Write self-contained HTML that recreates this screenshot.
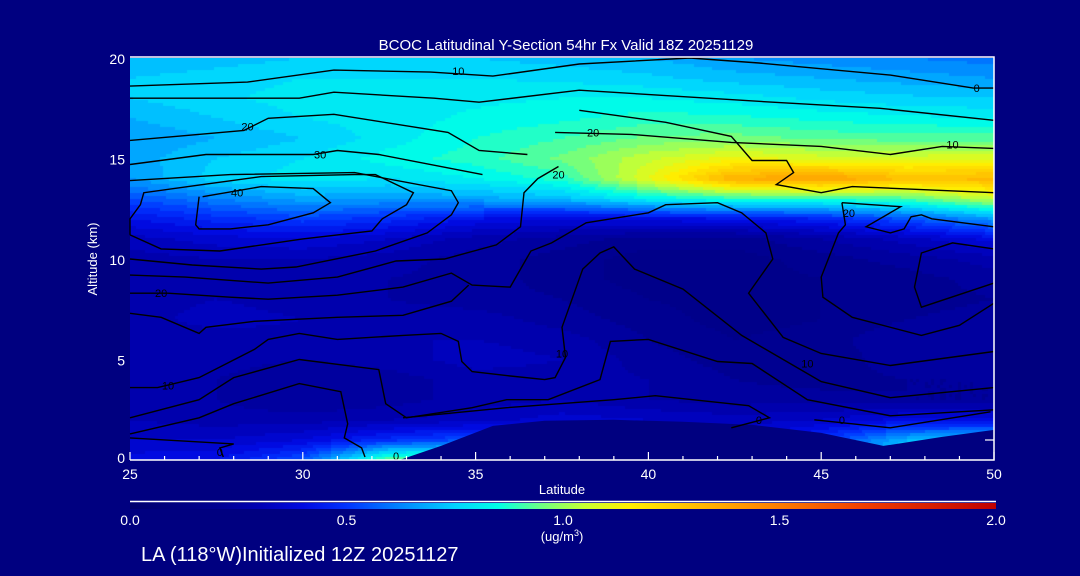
<!DOCTYPE html>
<html><head><meta charset="utf-8">
<style>
html,body{margin:0;padding:0;background:#000080;}
#wrap{position:relative;width:1080px;height:576px;background:#000080;overflow:hidden;font-family:"Liberation Sans",sans-serif;color:#fff;}
canvas{position:absolute;left:130px;top:58px;}
svg{position:absolute;left:0;top:0;}
</style></head>
<body>
<div id="wrap">
<canvas id="heat" width="864" height="402"></canvas>
<svg id="svg" width="1080" height="576"></svg>
</div>
<script>
// ---- data ----
const lats = [25,27.5,30,32.5,35,37.5,40,42.5,45,47.5,50];
const alts = [0,1,2,3,4,5,6,7,8,9,10,11,12,13,14,15,16,17,18,19,20];
const conc = [
[.40,.42,.55,.95,.95,.30,.30,.30,.50,.85,.85],
[.34,.34,.38,.48,.55,.42,.34,.34,.50,.70,.75],
[.30,.28,.28,.30,.32,.36,.34,.32,.34,.40,.40],
[.28,.26,.22,.24,.28,.30,.26,.24,.24,.22,.22],
[.28,.26,.22,.24,.28,.28,.26,.22,.20,.22,.22],
[.30,.28,.26,.28,.32,.30,.24,.20,.18,.26,.24],
[.26,.28,.28,.30,.30,.28,.22,.18,.20,.26,.26],
[.28,.32,.30,.28,.28,.24,.20,.16,.18,.22,.24],
[.28,.30,.28,.26,.24,.22,.18,.16,.18,.20,.22],
[.28,.28,.28,.26,.24,.20,.16,.16,.18,.20,.24],
[.28,.30,.30,.28,.24,.20,.16,.16,.20,.24,.28],
[.32,.36,.38,.34,.28,.24,.20,.20,.26,.32,.40],
[.42,.48,.52,.48,.42,.38,.40,.42,.46,.55,.66],
[.54,.62,.68,.66,.68,.72,.82,.88,.88,.92,1.05],
[.66,.76,.80,.78,.82,.88,1.10,1.35,1.40,1.30,1.32],
[.68,.74,.78,.84,.88,.95,1.05,1.12,1.08,1.08,1.10],
[.66,.70,.74,.80,.86,.90,.95,.96,.93,.92,.92],
[.70,.74,.78,.80,.83,.85,.88,.87,.85,.83,.82],
[.74,.77,.80,.80,.81,.82,.82,.80,.77,.75,.74],
[.74,.76,.78,.78,.78,.77,.75,.72,.70,.68,.66],
[.70,.72,.74,.74,.74,.72,.70,.66,.64,.62,.60]];
const terrain = [[32.8,0],[34,0.7],[35.5,1.7],[37,1.95],[39,2.0],[41,1.9],[43,1.75],[45,1.35],[46.8,0.7],[48.5,1.15],[50,1.5],[50,0]];
const contours = [
[[25,18.6],[28.4,18.8],[30.9,19.4],[33.7,19.3],[35.5,19.1],[38,19.7],[41.2,20],[43.2,19.75],[47,19.15],[49.4,18.5],[50,18.5]],
[[25,18],[29.9,18],[30.9,18.3],[33.8,18],[35.1,17.8],[38,18.4],[43.6,17.8],[46.7,17.5],[50,16.9]],
[[25,15.9],[28.3,16.4],[29,17],[30.9,17.2],[34.2,16.3],[35.1,15.4],[36.5,15.2]],
[[37.3,16.3],[39.5,16.2],[42.4,15.8],[45,15.6],[47,15.2],[48.5,15.6],[50,15.5]],
[[38,17.4],[40.5,16.8],[42.4,16.1],[43,14.9],[44,14.9],[44.2,14.3],[43.7,13.7],[45,13.3],[45.9,13.6],[50,13.3]],
[[25,14.7],[27.2,15.2],[30.3,15.2],[31,15.4],[32.2,15.2],[35.2,14.2]],
[[25,11.2],[25,12.0],[25.3,12.7],[25.4,13.3],[27.1,13.7],[28.8,14.1],[31.5,14.2],[32.1,14.2],[33.2,13.3],[33.0,12.7],[32.3,12.0],[32.0,11.4],[30.0,11.0],[27.6,10.4],[25.9,10.5],[25,11.2]],
[[27.0,13.1],[26.9,11.7],[27.0,11.5],[27.9,11.5],[29.0,11.7],[30.3,12.3],[30.8,12.8],[30.3,13.5],[28.8,13.6],[27.1,13.1]],
[[25,13.9],[27.9,14.2],[31.5,14.3],[34.3,13.4],[34.5,12.8],[34.3,12.2],[33.6,11.3],[32.1,10.4],[29.8,9.6],[28.8,9.5],[26.8,9.7],[25,10.0]],
[[25,9.2],[26.6,9.1],[29.0,8.8],[31.0,9.1],[32.7,9.9],[34.1,10.0],[35.6,10.7],[36.3,11.6],[36.4,13.3],[36.8,14.0],[37.4,14.6]],
[[25,8.3],[26.1,8.3],[27.9,8.1],[29,8.0],[31,8.2],[32.9,8.6],[34.3,9.3],[34.9,8.7],[36,8.6],[36.6,10.4],[37.2,10.8],[38.2,11.8],[40,12.3],[40.5,12.7],[42,12.8],[42.7,12.3],[43.4,11.3],[43.6,10.0],[42.9,8.3],[43.9,6.1],[45,5.3],[47,4.7],[50,5.4]],
[[25,7.3],[25.9,7.1],[27,6.3],[27.2,6.6],[28.6,6.9],[31,7.1],[32.9,7.2],[34.3,7.9],[34.8,8.7]],
[[25,3.6],[25.8,3.6],[27,4.1],[28.6,5.5],[29,6.0],[29.9,6.3],[31,6.0],[32.9,6.2],[34,6.3],[34.5,5.9],[34.6,4.9],[34.9,4.4],[35.9,4.2],[37,4.0],[37.3,4.1],[37.6,5.1],[37.5,6.6],[38.1,9.5],[38.6,10.3],[39,10.6],[39.6,9.5],[41,8.5],[42.7,6.2],[43.7,5.2],[45,3.9],[47,3.1],[50,3.6]],
[[25,2.1],[27,3.0],[28,4.1],[29.9,5.0],[32.2,4.5],[32.4,2.8],[33,2.1],[34.9,2.6],[35.9,3.0],[37.1,3.0],[38.6,4.0],[38.9,5.9],[40,6.0],[42,4.9],[43,4.8],[44.6,3.0],[47,2.2],[50,2.5]],
[[25,1.3],[27,2.1],[28,2.8],[29.9,3.8],[31.1,3.4],[31.3,1.8],[31.2,1.1],[31.7,0.6],[31.8,0.15]],
[[25,1.1],[28,0.8],[27.6,0.6],[27.7,0.15]],
[[45.6,12.8],[47.3,12.6],[46.3,11.6],[47,11.3],[47.4,11.5],[47.6,12.1],[47.9,12.2],[48.2,12],[50,11.6]],
[[45.6,12.8],[45.7,11.7],[45.5,11.3],[45,9.1],[45.05,8.1],[45.9,7.1],[47.9,6.2],[49,6.7],[50,7.8]],
[[50,10.5],[48.8,10.8],[47.9,10.3],[47.7,8.6],[47.9,7.6],[50,8.8]],
[[32.9,2.1],[35.9,2.6],[39,3.0],[40.2,3.2],[42.9,2.7],[43.5,2.1],[42.4,1.6]],
[[44.8,2.0],[47,1.6],[49.9,2.4]]];
const clabels = [["10",34.5,19.35],["0",49.5,18.5],["20",28.4,16.6],["30",30.5,15.2],["40",28.1,13.3],["20",38.4,16.3],["20",37.4,14.2],["10",48.8,15.7],["20",25.9,8.3],["10",26.1,3.7],["10",37.5,5.3],["10",44.6,4.8],["0",43.2,2.0],["0",45.6,2.0],["20",45.8,12.3],["0",27.6,0.4],["0",32.7,0.2]];
const latTicks = [25,30,35,40,45,50];
const altTicks = [0,5,10,15,20];
const cbTicks = ["0.0","0.5","1.0","1.5","2.0"];
const cmapV = [0,0.2,0.3,0.4,0.5,0.62,0.75,0.85,0.95,1.05,1.15,1.3,1.45,1.7,2.0];
const cmapC = [[0,0,110],[0,0,145],[0,0,180],[0,10,225],[0,50,255],[0,130,255],[0,210,255],[0,255,230],[110,255,130],[200,255,50],[255,240,0],[255,190,0],[255,140,0],[240,60,0],[190,0,0]];

// ---- axes ----
const PX0=130, PX1=994, PY0=460, PY1=58;
const xS = lat => PX0 + (lat-25)/(50-25)*(PX1-PX0);
const yS = alt => PY0 - alt/20*(PY0-PY1);
function cmap(v){
  if(v<=cmapV[0]) return cmapC[0];
  for(let i=1;i<cmapV.length;i++){ if(v<=cmapV[i]){ const t=(v-cmapV[i-1])/(cmapV[i]-cmapV[i-1]); const a=cmapC[i-1],b=cmapC[i]; return [0,1,2].map(k=>Math.round(a[k]+(b[k]-a[k])*t)); } }
  return cmapC[cmapC.length-1];
}
function sample(lat,alt){
  let fi=(lat-lats[0])/(lats[1]-lats[0]); let fj=(alt-alts[0])/(alts[1]-alts[0]);
  fi=Math.max(0,Math.min(lats.length-1.0001,fi)); fj=Math.max(0,Math.min(alts.length-1.0001,fj));
  const i=Math.floor(fi), j=Math.floor(fj), u=fi-i, w=fj-j;
  return conc[j][i]*(1-u)*(1-w)+conc[j][i+1]*u*(1-w)+conc[j+1][i]*(1-u)*w+conc[j+1][i+1]*u*w;
}
// heatmap
const cv=document.getElementById('heat'), ctx=cv.getContext('2d');
const B=3;
for(let py=0;py<402;py+=B){ for(let px=0;px<864;px+=B){
  const lat=25+(px+B/2)/864*25, alt=(402-(py+B/2))/402*20;
  const v=Math.round(sample(lat,alt)/0.04)*0.04;
  const c=cmap(v); ctx.fillStyle=`rgb(${c[0]},${c[1]},${c[2]})`; ctx.fillRect(px,py,B,B);
}}
const NS='http://www.w3.org/2000/svg', svg=document.getElementById('svg');
function mk(tag,attrs,parent){const e=document.createElementNS(NS,tag);for(const k in attrs)e.setAttribute(k,attrs[k]);(parent||svg).appendChild(e);return e;}
// terrain
const terr=mk('polygon',{points:terrain.map(p=>xS(p[0])+','+yS(p[1])).join(' '),fill:'#000080'});


// contours
contours.forEach((c,ix)=>{
  const pl=mk('polyline',{points:c.map(p=>xS(p[0]).toFixed(1)+','+yS(p[1]).toFixed(1)).join(' '),fill:'none',stroke:'#000','stroke-width':1.4});
  
  
});
clabels.forEach(l=>{
  const t=mk('text',{x:xS(l[1]),y:yS(l[2])+4,'text-anchor':'middle','font-size':11,fill:'#000','font-family':'Liberation Sans, sans-serif'});
  t.textContent=l[0];
  
  
});
// frame
const fr=mk('polyline',{points:`${PX0},${PY1-1} ${PX1},${PY1-1} ${PX1},${PY0} ${PX0},${PY0}`,fill:'none',stroke:'#fff','stroke-width':1.5});


for(let lat=25;lat<=50;lat++){
  const major=lat%5===0;
  const tk=mk('line',{x1:xS(lat),x2:xS(lat),y1:PY0,y2:PY0-(major?8:4),stroke:'#fff','stroke-width':1.2});
  
  
}
mk('line',{x1:985,x2:PX1,y1:440,y2:440,stroke:'#fff','stroke-width':1.2});
latTicks.forEach(v=>{
  const t=mk('text',{x:xS(v),y:479,'text-anchor':'middle','font-size':14,fill:'#fff'});
  t.textContent=v;
  
  
});
altTicks.forEach(v=>{
  const t=mk('text',{x:125,y:yS(v)+6-(v===0?3:0),'text-anchor':'end','font-size':14,fill:'#fff'});
  t.textContent=v;
  
  
});
let t=mk('text',{x:562,y:494,'text-anchor':'middle','font-size':13,fill:'#fff'});t.textContent='Latitude';


t=mk('text',{x:97,y:259,'text-anchor':'middle','font-size':13,fill:'#fff',transform:'rotate(-90 97 259)'});t.textContent='Altitude (km)';


t=mk('text',{x:566,y:50,'text-anchor':'middle','font-size':15,fill:'#fff','xml:space':'preserve'});t.textContent='BCOC Latitudinal Y-Section 54hr  Fx Valid 18Z 20251129';


// colorbar
const g=mk('defs',{});const lg=mk('linearGradient',{id:'cb',x1:0,x2:1,y1:0,y2:0},g);
cmapV.forEach((v,i)=>{mk('stop',{offset:v/2,'stop-color':`rgb(${cmapC[i].join(',')})`},lg);});
const cb=mk('rect',{x:130,y:503,width:866,height:6,fill:'url(#cb)'});


mk('line',{x1:130,x2:996,y1:501.5,y2:501.5,stroke:'#fff','stroke-width':1.5});
cbTicks.forEach((s,i)=>{
  const tt=mk('text',{x:130+i*216.5,y:525,'text-anchor':'middle','font-size':14,fill:'#fff'});
  tt.textContent=s;
  
  
});
t=mk('text',{x:562,y:541,'text-anchor':'middle','font-size':13,fill:'#fff'});t.innerHTML='(ug/m<tspan font-size="9" dy="-5">3</tspan><tspan dy="5">)</tspan>';


t=mk('text',{x:141,y:561,'font-size':20,fill:'#fff'});t.textContent='LA (118°W)Initialized 12Z 20251127';


</script>
</body></html>
